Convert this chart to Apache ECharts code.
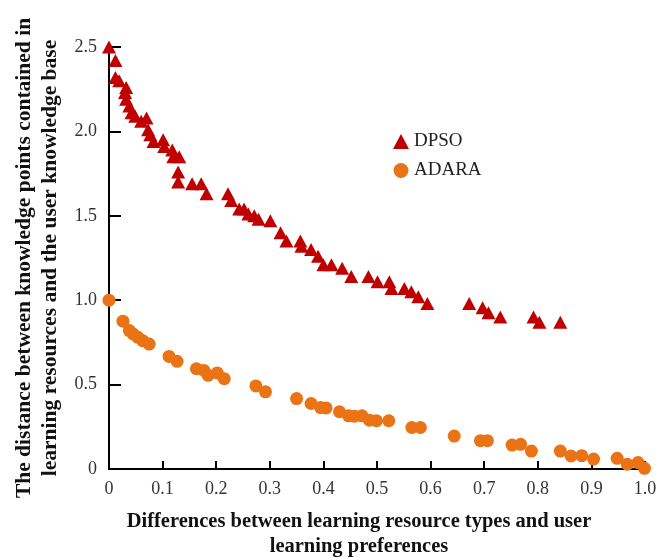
<!DOCTYPE html>
<html>
<head>
<meta charset="utf-8">
<style>html,body{margin:0;padding:0;background:#fff}#chart{width:656px;height:558px}</style>
<script src="https://cdn.jsdelivr.net/npm/echarts@6/dist/echarts.min.js"></script>
</head>
<body>
<div id="chart"></div>
<script>
// DPSO series: [difference, distance]
var dpsoX = [0.0,0.012,0.012,0.019,0.032,0.030,0.032,0.038,0.042,0.049,0.060,0.070,0.073,0.077,0.083,0.101,0.103,0.118,0.120,0.131,0.129,0.129,0.155,0.172,0.182,0.222,0.228,0.243,0.252,0.260,0.271,0.279,0.301,0.320,0.331,0.357,0.359,0.377,0.390,0.400,0.415,0.435,0.452,0.484,0.501,0.523,0.527,0.551,0.564,0.577,0.594,0.672,0.697,0.708,0.730,0.792,0.803,0.842];
var dpsoY = [2.50,2.42,2.32,2.30,2.26,2.23,2.19,2.15,2.11,2.09,2.06,2.08,2.01,1.98,1.94,1.95,1.91,1.89,1.85,1.85,1.76,1.70,1.69,1.69,1.63,1.63,1.59,1.54,1.54,1.51,1.50,1.48,1.47,1.40,1.35,1.35,1.32,1.30,1.26,1.21,1.21,1.19,1.14,1.14,1.11,1.11,1.07,1.07,1.05,1.02,0.98,0.98,0.955,0.925,0.90,0.90,0.87,0.87];
// ADARA series
var adaraX = [0.0,0.026,0.038,0.045,0.054,0.063,0.075,0.112,0.127,0.163,0.177,0.185,0.202,0.215,0.274,0.292,0.350,0.377,0.395,0.405,0.430,0.447,0.458,0.472,0.486,0.499,0.522,0.565,0.581,0.644,0.693,0.706,0.752,0.768,0.788,0.842,0.862,0.882,0.904,0.948,0.967,0.987,0.999];
var adaraY = [1.0,0.876,0.82,0.80,0.78,0.76,0.74,0.667,0.638,0.594,0.584,0.555,0.569,0.535,0.492,0.457,0.417,0.388,0.364,0.362,0.339,0.315,0.313,0.315,0.289,0.286,0.286,0.246,0.246,0.195,0.168,0.168,0.142,0.146,0.106,0.106,0.077,0.079,0.059,0.063,0.028,0.038,0.004];
var seriesNames = ['DPSO','ADARA'];
var xTitle = 'Differences between learning resource types and user\nlearning preferences';
var yTitle = 'The distance between knowledge points contained in\nlearning resources and the user knowledge base';

function zip(a,b){return a.map(function(v,i){return [v,b[i]];});}
function fmt(v){return v===0?'0':v.toFixed(1);}
var FONT = '"Liberation Serif", "DejaVu Serif", serif';

var chart = echarts.init(document.getElementById('chart'));
chart.setOption({
  animation:false,
  backgroundColor:'#fff',
  grid:{left:109,right:11,top:47,bottom:89,outerBoundsMode:'none',containLabel:false},
  legend:{
    orient:'vertical', left:388, top:127, itemGap:10, itemWidth:16, itemHeight:15,
    textStyle:{fontFamily:FONT,fontSize:19,color:'#222'},
    data:[{name:seriesNames[0],icon:'triangle'},{name:seriesNames[1],icon:'circle'}]
  },
  xAxis:{
    type:'value',min:0,max:1,interval:0.1,
    name:xTitle,nameLocation:'middle',nameGap:40,
    nameTextStyle:{fontFamily:FONT,fontSize:20.5,fontWeight:'bold',color:'#111',lineHeight:25,padding:[0,36,0,0]},
    axisLine:{lineStyle:{color:'#000',width:2}},
    axisTick:{inside:true,length:8,lineStyle:{color:'#000',width:2}},
    axisLabel:{formatter:fmt,fontFamily:FONT,fontSize:18,color:'#333',margin:11},
    splitLine:{show:false}
  },
  yAxis:{
    type:'value',min:0,max:2.5,interval:0.5,
    name:yTitle,nameLocation:'middle',nameRotate:90,nameGap:37,
    nameTextStyle:{fontFamily:FONT,fontSize:21.5,fontWeight:'bold',color:'#111',lineHeight:26},
    axisLine:{show:true,lineStyle:{color:'#000',width:2}},
    axisTick:{show:true,inside:true,length:12,lineStyle:{color:'#000',width:2}},
    axisLabel:{formatter:fmt,fontFamily:FONT,fontSize:18,color:'#333',margin:12},
    splitLine:{show:false}
  },
  series:[
    {name:seriesNames[0],type:'scatter',symbol:'triangle',symbolSize:[14,13],clip:false,
     itemStyle:{color:'#C00000',opacity:1},data:zip(dpsoX,dpsoY)},
    {name:seriesNames[1],type:'scatter',symbol:'circle',symbolSize:13,clip:false,
     itemStyle:{color:'#EA7316',opacity:1},data:zip(adaraX,adaraY)}
  ]
});
</script>
</body>
</html>
